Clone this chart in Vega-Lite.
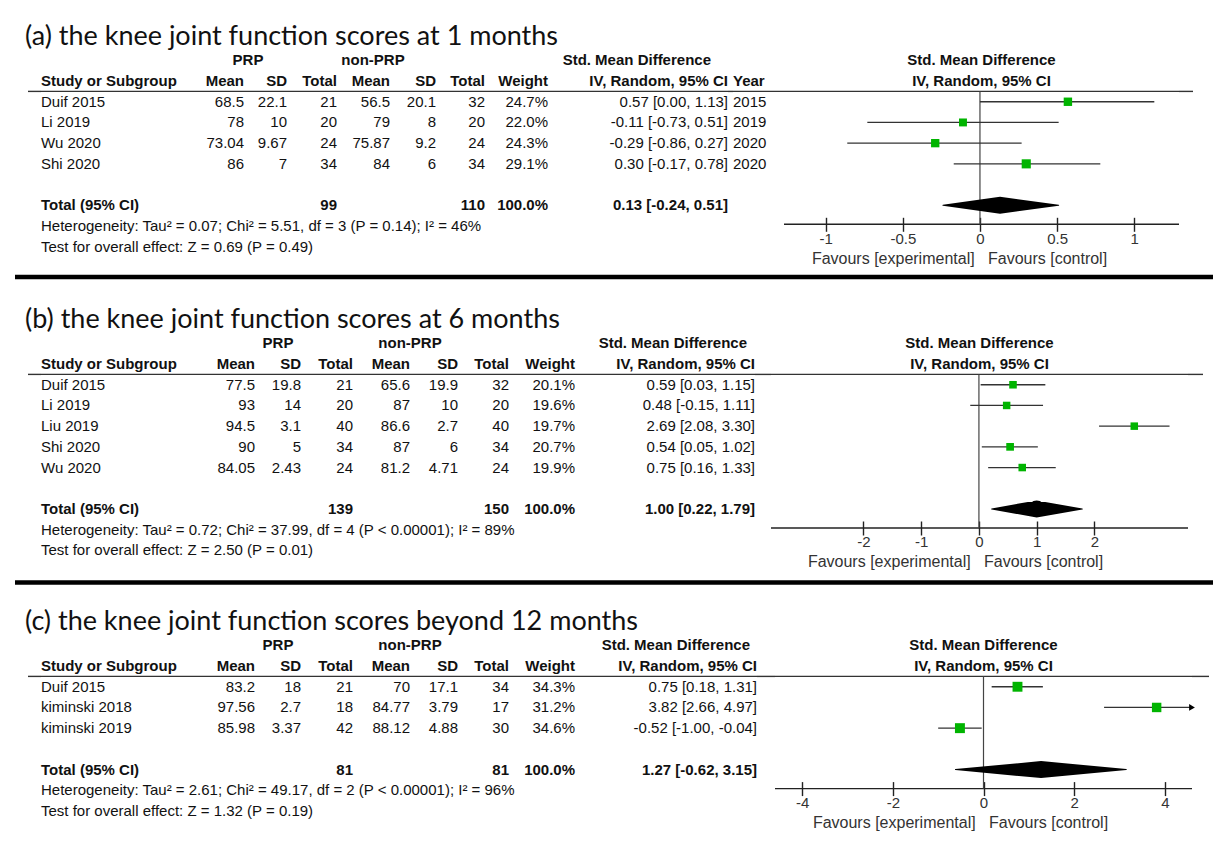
{
"$schema":"https://vega.github.io/schema/vega-lite/v6.json",
"background":"white",
"padding":{"left":12,"top":23,"right":0,"bottom":0},
"config":{
 "view":{"stroke":null},
 "concat":{"spacing":0},
 "scale":{"bandPaddingInner":0,"bandPaddingOuter":0},
 "text":{"font":"Liberation Sans","fontSize":15,"color":"#111","baseline":"middle"},
 "rule":{"color":"#333","strokeWidth":1.4},
 "axis":{"grid":false,"offset":-7,"domain":false,"tickColor":"#222","tickWidth":1.4,"tickSize":14,"labelFont":"Liberation Sans","labelFontSize":15,"labelColor":"#333","labelPadding":0,"titleFont":"Liberation Sans","titleFontSize":16,"titleFontWeight":"normal","titleColor":"#333","titlePadding":4},
 "title":{"font":"Lato","fontSize":27,"fontWeight":"normal","color":"#111","anchor":"start","baseline":"alphabetic","offset":0,"dx":10,"dy":5}
},
"datasets":{
 "hdr":[
  {"col":"study","row":"H","label":"Study or Subgroup"},
  {"col":"m1","row":"H","label":"Mean"},
  {"col":"s1","row":"H","label":"SD"},
  {"col":"s1","row":"G","label":"PRP"},
  {"col":"n1","row":"H","label":"Total"},
  {"col":"m2","row":"H","label":"Mean"},
  {"col":"s2","row":"H","label":"SD"},
  {"col":"s2","row":"G","label":"non-PRP"},
  {"col":"n2","row":"H","label":"Total"},
  {"col":"w","row":"H","label":"Weight"},
  {"col":"ci","row":"G","label":"Std. Mean Difference"},
  {"col":"ci","row":"H","label":"IV, Random, 95% CI"},
  {"col":"year","row":"H","label":"Year"},
  {"col":"plot","row":"G","label":"Std. Mean Difference"},
  {"col":"plot","row":"H","label":"IV, Random, 95% CI"}
 ],
 "a":[
  {"row":"Duif 2015","kind":"study","study":"Duif 2015","m1":68.5,"s1":22.1,"n1":21,"m2":56.5,"s2":20.1,"n2":32,"w":0.247,"smd":0.57,"lo":0.0,"hi":1.13,"ci":"0.57 [0.00, 1.13]","year":"2015"},
  {"row":"Li 2019","kind":"study","study":"Li 2019","m1":78,"s1":10,"n1":20,"m2":79,"s2":8,"n2":20,"w":0.22,"smd":-0.11,"lo":-0.73,"hi":0.51,"ci":"-0.11 [-0.73, 0.51]","year":"2019"},
  {"row":"Wu 2020","kind":"study","study":"Wu 2020","m1":73.04,"s1":9.67,"n1":24,"m2":75.87,"s2":9.2,"n2":24,"w":0.243,"smd":-0.29,"lo":-0.86,"hi":0.27,"ci":"-0.29 [-0.86, 0.27]","year":"2020"},
  {"row":"Shi 2020","kind":"study","study":"Shi 2020","m1":86,"s1":7,"n1":34,"m2":84,"s2":6,"n2":34,"w":0.291,"smd":0.30,"lo":-0.17,"hi":0.78,"ci":"0.30 [-0.17, 0.78]","year":"2020"},
  {"row":"Total","kind":"total","study":"Total (95% CI)","n1":99,"n2":110,"w":1.0,"smd":0.13,"lo":-0.24,"hi":0.51,"ci":"0.13 [-0.24, 0.51]"},
  {"row":"Het","kind":"note","study":"Heterogeneity: Tau² = 0.07; Chi² = 5.51, df = 3 (P = 0.14); I² = 46%"},
  {"row":"Test","kind":"note","study":"Test for overall effect: Z = 0.69 (P = 0.49)"}
 ],
 "b":[
  {"row":"Duif 2015","kind":"study","study":"Duif 2015","m1":77.5,"s1":19.8,"n1":21,"m2":65.6,"s2":19.9,"n2":32,"w":0.201,"smd":0.59,"lo":0.03,"hi":1.15,"ci":"0.59 [0.03, 1.15]"},
  {"row":"Li 2019","kind":"study","study":"Li 2019","m1":93,"s1":14,"n1":20,"m2":87,"s2":10,"n2":20,"w":0.196,"smd":0.48,"lo":-0.15,"hi":1.11,"ci":"0.48 [-0.15, 1.11]"},
  {"row":"Liu 2019","kind":"study","study":"Liu 2019","m1":94.5,"s1":3.1,"n1":40,"m2":86.6,"s2":2.7,"n2":40,"w":0.197,"smd":2.69,"lo":2.08,"hi":3.30,"ci":"2.69 [2.08, 3.30]"},
  {"row":"Shi 2020","kind":"study","study":"Shi 2020","m1":90,"s1":5,"n1":34,"m2":87,"s2":6,"n2":34,"w":0.207,"smd":0.54,"lo":0.05,"hi":1.02,"ci":"0.54 [0.05, 1.02]"},
  {"row":"Wu 2020","kind":"study","study":"Wu 2020","m1":84.05,"s1":2.43,"n1":24,"m2":81.2,"s2":4.71,"n2":24,"w":0.199,"smd":0.75,"lo":0.16,"hi":1.33,"ci":"0.75 [0.16, 1.33]"},
  {"row":"Total","kind":"total","study":"Total (95% CI)","n1":139,"n2":150,"w":1.0,"smd":1.00,"lo":0.22,"hi":1.79,"ci":"1.00 [0.22, 1.79]"},
  {"row":"Het","kind":"note","study":"Heterogeneity: Tau² = 0.72; Chi² = 37.99, df = 4 (P < 0.00001); I² = 89%"},
  {"row":"Test","kind":"note","study":"Test for overall effect: Z = 2.50 (P = 0.01)"}
 ],
 "c":[
  {"row":"Duif 2015","kind":"study","study":"Duif 2015","m1":83.2,"s1":18,"n1":21,"m2":70,"s2":17.1,"n2":34,"w":0.343,"smd":0.75,"lo":0.18,"hi":1.31,"ci":"0.75 [0.18, 1.31]"},
  {"row":"kiminski 2018","kind":"study","study":"kiminski 2018","m1":97.56,"s1":2.7,"n1":18,"m2":84.77,"s2":3.79,"n2":17,"w":0.312,"smd":3.82,"lo":2.66,"hi":4.97,"ci":"3.82 [2.66, 4.97]"},
  {"row":"kiminski 2019","kind":"study","study":"kiminski 2019","m1":85.98,"s1":3.37,"n1":42,"m2":88.12,"s2":4.88,"n2":30,"w":0.346,"smd":-0.52,"lo":-1.0,"hi":-0.04,"ci":"-0.52 [-1.00, -0.04]"},
  {"row":"Total","kind":"total","study":"Total (95% CI)","n1":81,"n2":81,"w":1.0,"smd":1.27,"lo":-0.62,"hi":3.15,"ci":"1.27 [-0.62, 3.15]"},
  {"row":"Het","kind":"note","study":"Heterogeneity: Tau² = 2.61; Chi² = 49.17, df = 2 (P < 0.00001); I² = 96%"},
  {"row":"Test","kind":"note","study":"Test for overall effect: Z = 1.32 (P = 0.19)"}
 ]
},
"vconcat":[
{"title":{"text":"(a) the knee joint function scores at 1 months"},"bounds":"flush","hconcat":[
 {"width":13,"height":20,"data":{"values":[]},"mark":"text","encoding":{}},
 {"width":13,"height":{"step":20.7},"encoding":{"y":{"field":"row","type":"nominal","axis":null,"scale":{"type":"band","domain":["G","H","Duif 2015","Li 2019","Wu 2020","Shi 2020","gap","Total","Het","Test"]}}},"layer":[
  {"data":{"name":"hdr"},"transform":[{"filter":"datum.label=='Study or Subgroup'"}],"mark":"rule","encoding":{"y":{"field":"row","type":"nominal","axis":null,"bandPosition":1,"scale":{"type":"band","domain":["G","H","Duif 2015","Li 2019","Wu 2020","Shi 2020","gap","Total","Het","Test"]}}}},
  {"data":{"name":"hdr"},"transform":[{"filter":"datum.col=='study'"}],"mark":{"type":"text","align":"left","fontWeight":"bold"},"encoding":{"x":{"value":"width"},"text":{"field":"label"}}},
  {"data":{"name":"a"},"transform":[{"filter":"datum.kind!='total'"}],"mark":{"type":"text","align":"left"},"encoding":{"x":{"value":"width"},"text":{"field":"study"}}},
  {"data":{"name":"a"},"transform":[{"filter":"datum.kind=='total'"}],"mark":{"type":"text","align":"left","fontWeight":"bold"},"encoding":{"x":{"value":"width"},"text":{"field":"study"}}}
 ]},
 {"width":203,"height":{"step":20.7},"encoding":{"y":{"field":"row","type":"nominal","axis":null,"scale":{"type":"band","domain":["G","H","Duif 2015","Li 2019","Wu 2020","Shi 2020","gap","Total","Het","Test"]}}},"layer":[
  {"data":{"name":"hdr"},"transform":[{"filter":"datum.label=='Study or Subgroup'"}],"mark":"rule","encoding":{"y":{"field":"row","type":"nominal","axis":null,"bandPosition":1,"scale":{"type":"band","domain":["G","H","Duif 2015","Li 2019","Wu 2020","Shi 2020","gap","Total","Het","Test"]}}}},
  {"data":{"name":"hdr"},"transform":[{"filter":"datum.col=='m1'"}],"mark":{"type":"text","align":"right","fontWeight":"bold"},"encoding":{"x":{"value":"width"},"text":{"field":"label"}}},
  {"data":{"name":"hdr"},"transform":[{"filter":"datum.col=='s1' && datum.row=='G'"}],"mark":{"type":"text","align":"center","fontWeight":"bold","dx":4},"encoding":{"x":{"value":"width"},"text":{"field":"label"}}},
  {"data":{"name":"a"},"transform":[{"filter":"datum.kind=='study'"}],"mark":{"type":"text","align":"right"},"encoding":{"x":{"value":"width"},"text":{"field":"m1","type":"quantitative"}}}
 ]},
 {"width":43,"height":{"step":20.7},"encoding":{"y":{"field":"row","type":"nominal","axis":null,"scale":{"type":"band","domain":["G","H","Duif 2015","Li 2019","Wu 2020","Shi 2020","gap","Total","Het","Test"]}}},"layer":[
  {"data":{"name":"hdr"},"transform":[{"filter":"datum.label=='Study or Subgroup'"}],"mark":"rule","encoding":{"y":{"field":"row","type":"nominal","axis":null,"bandPosition":1,"scale":{"type":"band","domain":["G","H","Duif 2015","Li 2019","Wu 2020","Shi 2020","gap","Total","Het","Test"]}}}},
  {"data":{"name":"hdr"},"transform":[{"filter":"datum.col=='s1' && datum.row=='H'"}],"mark":{"type":"text","align":"right","fontWeight":"bold"},"encoding":{"x":{"value":"width"},"text":{"field":"label"}}},
  {"data":{"name":"a"},"transform":[{"filter":"datum.kind=='study'"}],"mark":{"type":"text","align":"right"},"encoding":{"x":{"value":"width"},"text":{"field":"s1","type":"quantitative"}}}
 ]},
 {"width":50,"height":{"step":20.7},"encoding":{"y":{"field":"row","type":"nominal","axis":null,"scale":{"type":"band","domain":["G","H","Duif 2015","Li 2019","Wu 2020","Shi 2020","gap","Total","Het","Test"]}}},"layer":[
  {"data":{"name":"hdr"},"transform":[{"filter":"datum.label=='Study or Subgroup'"}],"mark":"rule","encoding":{"y":{"field":"row","type":"nominal","axis":null,"bandPosition":1,"scale":{"type":"band","domain":["G","H","Duif 2015","Li 2019","Wu 2020","Shi 2020","gap","Total","Het","Test"]}}}},
  {"data":{"name":"hdr"},"transform":[{"filter":"datum.col=='n1'"}],"mark":{"type":"text","align":"right","fontWeight":"bold"},"encoding":{"x":{"value":"width"},"text":{"field":"label"}}},
  {"data":{"name":"a"},"transform":[{"filter":"datum.kind=='study'"}],"mark":{"type":"text","align":"right"},"encoding":{"x":{"value":"width"},"text":{"field":"n1","type":"quantitative"}}},
  {"data":{"name":"a"},"transform":[{"filter":"datum.kind=='total'"}],"mark":{"type":"text","align":"right","fontWeight":"bold"},"encoding":{"x":{"value":"width"},"text":{"field":"n1","type":"quantitative"}}}
 ]},
 {"width":53,"height":{"step":20.7},"encoding":{"y":{"field":"row","type":"nominal","axis":null,"scale":{"type":"band","domain":["G","H","Duif 2015","Li 2019","Wu 2020","Shi 2020","gap","Total","Het","Test"]}}},"layer":[
  {"data":{"name":"hdr"},"transform":[{"filter":"datum.label=='Study or Subgroup'"}],"mark":"rule","encoding":{"y":{"field":"row","type":"nominal","axis":null,"bandPosition":1,"scale":{"type":"band","domain":["G","H","Duif 2015","Li 2019","Wu 2020","Shi 2020","gap","Total","Het","Test"]}}}},
  {"data":{"name":"hdr"},"transform":[{"filter":"datum.col=='m2'"}],"mark":{"type":"text","align":"right","fontWeight":"bold"},"encoding":{"x":{"value":"width"},"text":{"field":"label"}}},
  {"data":{"name":"hdr"},"transform":[{"filter":"datum.col=='s2' && datum.row=='G'"}],"mark":{"type":"text","align":"center","fontWeight":"bold","dx":-17},"encoding":{"x":{"value":"width"},"text":{"field":"label"}}},
  {"data":{"name":"a"},"transform":[{"filter":"datum.kind=='study'"}],"mark":{"type":"text","align":"right"},"encoding":{"x":{"value":"width"},"text":{"field":"m2","type":"quantitative"}}}
 ]},
 {"width":46,"height":{"step":20.7},"encoding":{"y":{"field":"row","type":"nominal","axis":null,"scale":{"type":"band","domain":["G","H","Duif 2015","Li 2019","Wu 2020","Shi 2020","gap","Total","Het","Test"]}}},"layer":[
  {"data":{"name":"hdr"},"transform":[{"filter":"datum.label=='Study or Subgroup'"}],"mark":"rule","encoding":{"y":{"field":"row","type":"nominal","axis":null,"bandPosition":1,"scale":{"type":"band","domain":["G","H","Duif 2015","Li 2019","Wu 2020","Shi 2020","gap","Total","Het","Test"]}}}},
  {"data":{"name":"hdr"},"transform":[{"filter":"datum.col=='s2' && datum.row=='H'"}],"mark":{"type":"text","align":"right","fontWeight":"bold"},"encoding":{"x":{"value":"width"},"text":{"field":"label"}}},
  {"data":{"name":"a"},"transform":[{"filter":"datum.kind=='study'"}],"mark":{"type":"text","align":"right"},"encoding":{"x":{"value":"width"},"text":{"field":"s2","type":"quantitative"}}}
 ]},
 {"width":49,"height":{"step":20.7},"encoding":{"y":{"field":"row","type":"nominal","axis":null,"scale":{"type":"band","domain":["G","H","Duif 2015","Li 2019","Wu 2020","Shi 2020","gap","Total","Het","Test"]}}},"layer":[
  {"data":{"name":"hdr"},"transform":[{"filter":"datum.label=='Study or Subgroup'"}],"mark":"rule","encoding":{"y":{"field":"row","type":"nominal","axis":null,"bandPosition":1,"scale":{"type":"band","domain":["G","H","Duif 2015","Li 2019","Wu 2020","Shi 2020","gap","Total","Het","Test"]}}}},
  {"data":{"name":"hdr"},"transform":[{"filter":"datum.col=='n2'"}],"mark":{"type":"text","align":"right","fontWeight":"bold"},"encoding":{"x":{"value":"width"},"text":{"field":"label"}}},
  {"data":{"name":"a"},"transform":[{"filter":"datum.kind=='study'"}],"mark":{"type":"text","align":"right"},"encoding":{"x":{"value":"width"},"text":{"field":"n2","type":"quantitative"}}},
  {"data":{"name":"a"},"transform":[{"filter":"datum.kind=='total'"}],"mark":{"type":"text","align":"right","fontWeight":"bold"},"encoding":{"x":{"value":"width"},"text":{"field":"n2","type":"quantitative"}}}
 ]},
 {"width":63,"height":{"step":20.7},"encoding":{"y":{"field":"row","type":"nominal","axis":null,"scale":{"type":"band","domain":["G","H","Duif 2015","Li 2019","Wu 2020","Shi 2020","gap","Total","Het","Test"]}}},"layer":[
  {"data":{"name":"hdr"},"transform":[{"filter":"datum.label=='Study or Subgroup'"}],"mark":"rule","encoding":{"y":{"field":"row","type":"nominal","axis":null,"bandPosition":1,"scale":{"type":"band","domain":["G","H","Duif 2015","Li 2019","Wu 2020","Shi 2020","gap","Total","Het","Test"]}}}},
  {"data":{"name":"hdr"},"transform":[{"filter":"datum.col=='w'"}],"mark":{"type":"text","align":"right","fontWeight":"bold"},"encoding":{"x":{"value":"width"},"text":{"field":"label"}}},
  {"data":{"name":"a"},"transform":[{"filter":"datum.kind=='study'"}],"mark":{"type":"text","align":"right"},"encoding":{"x":{"value":"width"},"text":{"field":"w","type":"quantitative","format":".1%"}}},
  {"data":{"name":"a"},"transform":[{"filter":"datum.kind=='total'"}],"mark":{"type":"text","align":"right","fontWeight":"bold"},"encoding":{"x":{"value":"width"},"text":{"field":"w","type":"quantitative","format":".1%"}}}
 ]},
 {"width":180,"height":{"step":20.7},"encoding":{"y":{"field":"row","type":"nominal","axis":null,"scale":{"type":"band","domain":["G","H","Duif 2015","Li 2019","Wu 2020","Shi 2020","gap","Total","Het","Test"]}}},"layer":[
  {"data":{"name":"hdr"},"transform":[{"filter":"datum.label=='Study or Subgroup'"}],"mark":"rule","encoding":{"y":{"field":"row","type":"nominal","axis":null,"bandPosition":1,"scale":{"type":"band","domain":["G","H","Duif 2015","Li 2019","Wu 2020","Shi 2020","gap","Total","Het","Test"]}}}},
  {"data":{"name":"hdr"},"transform":[{"filter":"datum.col=='ci' && datum.row=='H'"}],"mark":{"type":"text","align":"right","fontWeight":"bold"},"encoding":{"x":{"value":"width"},"text":{"field":"label"}}},
  {"data":{"name":"hdr"},"transform":[{"filter":"datum.col=='ci' && datum.row=='G'"}],"mark":{"type":"text","align":"right","fontWeight":"bold","dx":-17},"encoding":{"x":{"value":"width"},"text":{"field":"label"}}},
  {"data":{"name":"a"},"transform":[{"filter":"datum.kind=='study'"}],"mark":{"type":"text","align":"right"},"encoding":{"x":{"value":"width"},"text":{"field":"ci","type":"nominal"}}},
  {"data":{"name":"a"},"transform":[{"filter":"datum.kind=='total'"}],"mark":{"type":"text","align":"right","fontWeight":"bold"},"encoding":{"x":{"value":"width"},"text":{"field":"ci","type":"nominal"}}}
 ]},
 {"width":5,"height":{"step":20.7},"encoding":{"y":{"field":"row","type":"nominal","axis":null,"scale":{"type":"band","domain":["G","H","Duif 2015","Li 2019","Wu 2020","Shi 2020","gap","Total","Het","Test"]}}},"layer":[
  {"data":{"name":"hdr"},"transform":[{"filter":"datum.label=='Study or Subgroup'"}],"mark":"rule","encoding":{"y":{"field":"row","type":"nominal","axis":null,"bandPosition":1,"scale":{"type":"band","domain":["G","H","Duif 2015","Li 2019","Wu 2020","Shi 2020","gap","Total","Het","Test"]}}}},
  {"data":{"name":"hdr"},"transform":[{"filter":"datum.col=='year'"}],"mark":{"type":"text","align":"left","fontWeight":"bold"},"encoding":{"x":{"value":"width"},"text":{"field":"label"}}},
  {"data":{"name":"a"},"transform":[{"filter":"datum.kind=='study'"}],"mark":{"type":"text","align":"left"},"encoding":{"x":{"value":"width"},"text":{"field":"year","type":"nominal"}}}
 ]},
 {"width":51,"height":{"step":20.7},"data":{"name":"hdr"},"transform":[{"filter":"datum.label=='Study or Subgroup'"}],"mark":"rule","encoding":{"y":{"field":"row","type":"nominal","axis":null,"bandPosition":1,"scale":{"type":"band","domain":["G","H","Duif 2015","Li 2019","Wu 2020","Shi 2020","gap","Total","Het","Test"]}}}},
 {"width":395,"height":{"step":20.7},"resolve":{"scale":{"size":"independent"}},
  "encoding":{"y":{"field":"row","type":"nominal","axis":null,"scale":{"type":"band","domain":["G","H","Duif 2015","Li 2019","Wu 2020","Shi 2020","gap","Total"],"paddingOuter":0.21,"align":0}}},
  "layer":[
  {"data":{"name":"hdr"},"transform":[{"filter":"datum.col=='plot'"}],"mark":{"type":"text","align":"center","fontWeight":"bold"},"encoding":{"text":{"field":"label"}}},
  {"data":{"name":"hdr"},"transform":[{"filter":"datum.label=='Study or Subgroup'"}],"mark":"rule","encoding":{"y":{"field":"row","type":"nominal","axis":null,"bandPosition":1,"scale":{"type":"band","domain":["G","H","Duif 2015","Li 2019","Wu 2020","Shi 2020","gap","Total"],"paddingOuter":0.21,"align":0}}}},
  {"data":{"name":"hdr"},"transform":[{"filter":"datum.label=='Study or Subgroup'"}],"mark":{"type":"rule","color":"#222","strokeWidth":1.4},"encoding":{"y":{"value":"height"}}},
  {"data":{"name":"hdr"},"transform":[{"filter":"datum.label=='Study or Subgroup'"}],"mark":{"type":"rule","color":"#444","strokeWidth":1.2},"encoding":{"x":{"datum":0,"type":"quantitative","title":"Favours [experimental] \u00a0 Favours [control]"},"y":{"field":"row","type":"nominal","axis":null,"bandPosition":1,"scale":{"type":"band","domain":["G","H","Duif 2015","Li 2019","Wu 2020","Shi 2020","gap","Total"],"paddingOuter":0.21,"align":0}},"y2":{"value":"height"}}},
  {"data":{"name":"a"},"transform":[{"filter":"datum.kind=='study'"}],"mark":{"type":"rule","color":"#333","strokeWidth":1.3},"encoding":{"x":{"field":"lo","type":"quantitative","title":"Favours [experimental] \u00a0 Favours [control]","scale":{"domain":[-1.27,1.29],"nice":false,"zero":false,"clamp":true},"axis":{"values":[-1,-0.5,0,0.5,1],"labelExpr":"datum.value < 0 ? '-' + format(-datum.value, '~g') : format(datum.value, '~g')","titleX":175}},"x2":{"field":"hi"}}},
  {"data":{"name":"a"},"transform":[{"filter":"datum.kind=='study'"}],"mark":{"type":"point","shape":"square","filled":true,"color":"#00b400","opacity":1},"encoding":{"x":{"field":"smd","type":"quantitative","title":"Favours [experimental] \u00a0 Favours [control]"},"size":{"field":"w","type":"quantitative","scale":{"domain":[0,0.35],"range":[0,100]},"legend":null}}},
  {"data":{"name":"a"},"transform":[{"filter":"datum.kind=='total'"},{"fold":["lo","smd","hi"],"as":["k","v"]}],"mark":{"type":"trail","color":"#000"},"encoding":{"x":{"field":"v","type":"quantitative","title":"Favours [experimental] \u00a0 Favours [control]"},"size":{"field":"k","type":"nominal","scale":{"type":"ordinal","domain":["lo","smd","hi"],"range":[0,17,0]},"legend":null}}}
 ]},
 {"width":14,"height":{"step":20.7},"data":{"name":"hdr"},"transform":[{"filter":"datum.label=='Study or Subgroup'"}],"mark":"rule","encoding":{"y":{"field":"row","type":"nominal","axis":null,"bandPosition":1,"scale":{"type":"band","domain":["G","H","Duif 2015","Li 2019","Wu 2020","Shi 2020","gap","Total","Het","Test"]}}}}
]},
{"width":1198,"height":38.35,"data":{"values":[{}]},"mark":{"type":"rule","strokeWidth":4.5,"color":"#000"},"encoding":{"y":{"datum":0.737,"type":"quantitative","scale":{"domain":[0,1]},"axis":null}}},
{"title":{"text":"(b) the knee joint function scores at 6 months"},"bounds":"flush","hconcat":[
 {"width":13,"height":20,"data":{"values":[]},"mark":"text","encoding":{}},
 {"width":13,"height":{"step":20.7},"encoding":{"y":{"field":"row","type":"nominal","axis":null,"scale":{"type":"band","domain":["G","H","Duif 2015","Li 2019","Liu 2019","Shi 2020","Wu 2020","gap","Total","Het","Test"]}}},"layer":[
  {"data":{"name":"hdr"},"transform":[{"filter":"datum.label=='Study or Subgroup'"}],"mark":"rule","encoding":{"y":{"field":"row","type":"nominal","axis":null,"bandPosition":1,"scale":{"type":"band","domain":["G","H","Duif 2015","Li 2019","Liu 2019","Shi 2020","Wu 2020","gap","Total","Het","Test"]}}}},
  {"data":{"name":"hdr"},"transform":[{"filter":"datum.col=='study'"}],"mark":{"type":"text","align":"left","fontWeight":"bold"},"encoding":{"x":{"value":"width"},"text":{"field":"label"}}},
  {"data":{"name":"b"},"transform":[{"filter":"datum.kind!='total'"}],"mark":{"type":"text","align":"left"},"encoding":{"x":{"value":"width"},"text":{"field":"study"}}},
  {"data":{"name":"b"},"transform":[{"filter":"datum.kind=='total'"}],"mark":{"type":"text","align":"left","fontWeight":"bold"},"encoding":{"x":{"value":"width"},"text":{"field":"study"}}}
 ]},
 {"width":214,"height":{"step":20.7},"encoding":{"y":{"field":"row","type":"nominal","axis":null,"scale":{"type":"band","domain":["G","H","Duif 2015","Li 2019","Liu 2019","Shi 2020","Wu 2020","gap","Total","Het","Test"]}}},"layer":[
  {"data":{"name":"hdr"},"transform":[{"filter":"datum.label=='Study or Subgroup'"}],"mark":"rule","encoding":{"y":{"field":"row","type":"nominal","axis":null,"bandPosition":1,"scale":{"type":"band","domain":["G","H","Duif 2015","Li 2019","Liu 2019","Shi 2020","Wu 2020","gap","Total","Het","Test"]}}}},
  {"data":{"name":"hdr"},"transform":[{"filter":"datum.col=='m1'"}],"mark":{"type":"text","align":"right","fontWeight":"bold"},"encoding":{"x":{"value":"width"},"text":{"field":"label"}}},
  {"data":{"name":"b"},"transform":[{"filter":"datum.kind=='study'"}],"mark":{"type":"text","align":"right"},"encoding":{"x":{"value":"width"},"text":{"field":"m1","type":"quantitative"}}}
 ]},
 {"width":46,"height":{"step":20.7},"encoding":{"y":{"field":"row","type":"nominal","axis":null,"scale":{"type":"band","domain":["G","H","Duif 2015","Li 2019","Liu 2019","Shi 2020","Wu 2020","gap","Total","Het","Test"]}}},"layer":[
  {"data":{"name":"hdr"},"transform":[{"filter":"datum.label=='Study or Subgroup'"}],"mark":"rule","encoding":{"y":{"field":"row","type":"nominal","axis":null,"bandPosition":1,"scale":{"type":"band","domain":["G","H","Duif 2015","Li 2019","Liu 2019","Shi 2020","Wu 2020","gap","Total","Het","Test"]}}}},
  {"data":{"name":"hdr"},"transform":[{"filter":"datum.col=='s1' && datum.row=='H'"}],"mark":{"type":"text","align":"right","fontWeight":"bold"},"encoding":{"x":{"value":"width"},"text":{"field":"label"}}},
  {"data":{"name":"hdr"},"transform":[{"filter":"datum.col=='s1' && datum.row=='G'"}],"mark":{"type":"text","align":"center","fontWeight":"bold"},"encoding":{"text":{"field":"label"}}},
  {"data":{"name":"b"},"transform":[{"filter":"datum.kind=='study'"}],"mark":{"type":"text","align":"right"},"encoding":{"x":{"value":"width"},"text":{"field":"s1","type":"quantitative"}}}
 ]},
 {"width":52,"height":{"step":20.7},"encoding":{"y":{"field":"row","type":"nominal","axis":null,"scale":{"type":"band","domain":["G","H","Duif 2015","Li 2019","Liu 2019","Shi 2020","Wu 2020","gap","Total","Het","Test"]}}},"layer":[
  {"data":{"name":"hdr"},"transform":[{"filter":"datum.label=='Study or Subgroup'"}],"mark":"rule","encoding":{"y":{"field":"row","type":"nominal","axis":null,"bandPosition":1,"scale":{"type":"band","domain":["G","H","Duif 2015","Li 2019","Liu 2019","Shi 2020","Wu 2020","gap","Total","Het","Test"]}}}},
  {"data":{"name":"hdr"},"transform":[{"filter":"datum.col=='n1'"}],"mark":{"type":"text","align":"right","fontWeight":"bold"},"encoding":{"x":{"value":"width"},"text":{"field":"label"}}},
  {"data":{"name":"b"},"transform":[{"filter":"datum.kind=='study'"}],"mark":{"type":"text","align":"right"},"encoding":{"x":{"value":"width"},"text":{"field":"n1","type":"quantitative"}}},
  {"data":{"name":"b"},"transform":[{"filter":"datum.kind=='total'"}],"mark":{"type":"text","align":"right","fontWeight":"bold"},"encoding":{"x":{"value":"width"},"text":{"field":"n1","type":"quantitative"}}}
 ]},
 {"width":57,"height":{"step":20.7},"encoding":{"y":{"field":"row","type":"nominal","axis":null,"scale":{"type":"band","domain":["G","H","Duif 2015","Li 2019","Liu 2019","Shi 2020","Wu 2020","gap","Total","Het","Test"]}}},"layer":[
  {"data":{"name":"hdr"},"transform":[{"filter":"datum.label=='Study or Subgroup'"}],"mark":"rule","encoding":{"y":{"field":"row","type":"nominal","axis":null,"bandPosition":1,"scale":{"type":"band","domain":["G","H","Duif 2015","Li 2019","Liu 2019","Shi 2020","Wu 2020","gap","Total","Het","Test"]}}}},
  {"data":{"name":"hdr"},"transform":[{"filter":"datum.col=='m2'"}],"mark":{"type":"text","align":"right","fontWeight":"bold"},"encoding":{"x":{"value":"width"},"text":{"field":"label"}}},
  {"data":{"name":"hdr"},"transform":[{"filter":"datum.col=='s2' && datum.row=='G'"}],"mark":{"type":"text","align":"center","fontWeight":"bold"},"encoding":{"x":{"value":"width"},"text":{"field":"label"}}},
  {"data":{"name":"b"},"transform":[{"filter":"datum.kind=='study'"}],"mark":{"type":"text","align":"right"},"encoding":{"x":{"value":"width"},"text":{"field":"m2","type":"quantitative"}}}
 ]},
 {"width":48,"height":{"step":20.7},"encoding":{"y":{"field":"row","type":"nominal","axis":null,"scale":{"type":"band","domain":["G","H","Duif 2015","Li 2019","Liu 2019","Shi 2020","Wu 2020","gap","Total","Het","Test"]}}},"layer":[
  {"data":{"name":"hdr"},"transform":[{"filter":"datum.label=='Study or Subgroup'"}],"mark":"rule","encoding":{"y":{"field":"row","type":"nominal","axis":null,"bandPosition":1,"scale":{"type":"band","domain":["G","H","Duif 2015","Li 2019","Liu 2019","Shi 2020","Wu 2020","gap","Total","Het","Test"]}}}},
  {"data":{"name":"hdr"},"transform":[{"filter":"datum.col=='s2' && datum.row=='H'"}],"mark":{"type":"text","align":"right","fontWeight":"bold"},"encoding":{"x":{"value":"width"},"text":{"field":"label"}}},
  {"data":{"name":"b"},"transform":[{"filter":"datum.kind=='study'"}],"mark":{"type":"text","align":"right"},"encoding":{"x":{"value":"width"},"text":{"field":"s2","type":"quantitative"}}}
 ]},
 {"width":51,"height":{"step":20.7},"encoding":{"y":{"field":"row","type":"nominal","axis":null,"scale":{"type":"band","domain":["G","H","Duif 2015","Li 2019","Liu 2019","Shi 2020","Wu 2020","gap","Total","Het","Test"]}}},"layer":[
  {"data":{"name":"hdr"},"transform":[{"filter":"datum.label=='Study or Subgroup'"}],"mark":"rule","encoding":{"y":{"field":"row","type":"nominal","axis":null,"bandPosition":1,"scale":{"type":"band","domain":["G","H","Duif 2015","Li 2019","Liu 2019","Shi 2020","Wu 2020","gap","Total","Het","Test"]}}}},
  {"data":{"name":"hdr"},"transform":[{"filter":"datum.col=='n2'"}],"mark":{"type":"text","align":"right","fontWeight":"bold"},"encoding":{"x":{"value":"width"},"text":{"field":"label"}}},
  {"data":{"name":"b"},"transform":[{"filter":"datum.kind=='study'"}],"mark":{"type":"text","align":"right"},"encoding":{"x":{"value":"width"},"text":{"field":"n2","type":"quantitative"}}},
  {"data":{"name":"b"},"transform":[{"filter":"datum.kind=='total'"}],"mark":{"type":"text","align":"right","fontWeight":"bold"},"encoding":{"x":{"value":"width"},"text":{"field":"n2","type":"quantitative"}}}
 ]},
 {"width":66,"height":{"step":20.7},"encoding":{"y":{"field":"row","type":"nominal","axis":null,"scale":{"type":"band","domain":["G","H","Duif 2015","Li 2019","Liu 2019","Shi 2020","Wu 2020","gap","Total","Het","Test"]}}},"layer":[
  {"data":{"name":"hdr"},"transform":[{"filter":"datum.label=='Study or Subgroup'"}],"mark":"rule","encoding":{"y":{"field":"row","type":"nominal","axis":null,"bandPosition":1,"scale":{"type":"band","domain":["G","H","Duif 2015","Li 2019","Liu 2019","Shi 2020","Wu 2020","gap","Total","Het","Test"]}}}},
  {"data":{"name":"hdr"},"transform":[{"filter":"datum.col=='w'"}],"mark":{"type":"text","align":"right","fontWeight":"bold"},"encoding":{"x":{"value":"width"},"text":{"field":"label"}}},
  {"data":{"name":"b"},"transform":[{"filter":"datum.kind=='study'"}],"mark":{"type":"text","align":"right"},"encoding":{"x":{"value":"width"},"text":{"field":"w","type":"quantitative","format":".1%"}}},
  {"data":{"name":"b"},"transform":[{"filter":"datum.kind=='total'"}],"mark":{"type":"text","align":"right","fontWeight":"bold"},"encoding":{"x":{"value":"width"},"text":{"field":"w","type":"quantitative","format":".1%"}}}
 ]},
 {"width":180,"height":{"step":20.7},"encoding":{"y":{"field":"row","type":"nominal","axis":null,"scale":{"type":"band","domain":["G","H","Duif 2015","Li 2019","Liu 2019","Shi 2020","Wu 2020","gap","Total","Het","Test"]}}},"layer":[
  {"data":{"name":"hdr"},"transform":[{"filter":"datum.label=='Study or Subgroup'"}],"mark":"rule","encoding":{"y":{"field":"row","type":"nominal","axis":null,"bandPosition":1,"scale":{"type":"band","domain":["G","H","Duif 2015","Li 2019","Liu 2019","Shi 2020","Wu 2020","gap","Total","Het","Test"]}}}},
  {"data":{"name":"hdr"},"transform":[{"filter":"datum.col=='ci' && datum.row=='H'"}],"mark":{"type":"text","align":"right","fontWeight":"bold"},"encoding":{"x":{"value":"width"},"text":{"field":"label"}}},
  {"data":{"name":"hdr"},"transform":[{"filter":"datum.col=='ci' && datum.row=='G'"}],"mark":{"type":"text","align":"right","fontWeight":"bold","dx":-8},"encoding":{"x":{"value":"width"},"text":{"field":"label"}}},
  {"data":{"name":"b"},"transform":[{"filter":"datum.kind=='study'"}],"mark":{"type":"text","align":"right"},"encoding":{"x":{"value":"width"},"text":{"field":"ci","type":"nominal"}}},
  {"data":{"name":"b"},"transform":[{"filter":"datum.kind=='total'"}],"mark":{"type":"text","align":"right","fontWeight":"bold"},"encoding":{"x":{"value":"width"},"text":{"field":"ci","type":"nominal"}}}
 ]},
 {"width":16,"height":{"step":20.7},"data":{"name":"hdr"},"transform":[{"filter":"datum.label=='Study or Subgroup'"}],"mark":"rule","encoding":{"y":{"field":"row","type":"nominal","axis":null,"bandPosition":1,"scale":{"type":"band","domain":["G","H","Duif 2015","Li 2019","Liu 2019","Shi 2020","Wu 2020","gap","Total","Het","Test"]}}}},
 {"width":417,"height":{"step":20.7},"resolve":{"scale":{"size":"independent"}},
  "encoding":{"y":{"field":"row","type":"nominal","axis":null,"scale":{"type":"band","domain":["G","H","Duif 2015","Li 2019","Liu 2019","Shi 2020","Wu 2020","gap","Total"],"paddingOuter":0.21,"align":0}}},
  "layer":[
  {"data":{"name":"hdr"},"transform":[{"filter":"datum.col=='plot'"}],"mark":{"type":"text","align":"center","fontWeight":"bold"},"encoding":{"text":{"field":"label"}}},
  {"data":{"name":"hdr"},"transform":[{"filter":"datum.label=='Study or Subgroup'"}],"mark":"rule","encoding":{"y":{"field":"row","type":"nominal","axis":null,"bandPosition":1,"scale":{"type":"band","domain":["G","H","Duif 2015","Li 2019","Liu 2019","Shi 2020","Wu 2020","gap","Total"],"paddingOuter":0.21,"align":0}}}},
  {"data":{"name":"hdr"},"transform":[{"filter":"datum.label=='Study or Subgroup'"}],"mark":{"type":"rule","color":"#222","strokeWidth":1.4},"encoding":{"y":{"value":"height"}}},
  {"data":{"name":"hdr"},"transform":[{"filter":"datum.label=='Study or Subgroup'"}],"mark":{"type":"rule","color":"#444","strokeWidth":1.2},"encoding":{"x":{"datum":0,"type":"quantitative","title":"Favours [experimental] \u00a0 Favours [control]"},"y":{"field":"row","type":"nominal","axis":null,"bandPosition":1,"scale":{"type":"band","domain":["G","H","Duif 2015","Li 2019","Liu 2019","Shi 2020","Wu 2020","gap","Total"],"paddingOuter":0.21,"align":0}},"y2":{"value":"height"}}},
  {"data":{"name":"b"},"transform":[{"filter":"datum.kind=='study'"}],"mark":{"type":"rule","color":"#333","strokeWidth":1.3},"encoding":{"x":{"field":"lo","type":"quantitative","title":"Favours [experimental] \u00a0 Favours [control]","scale":{"domain":[-3.6,3.62],"nice":false,"zero":false,"clamp":true},"axis":{"values":[-2,-1,0,1,2],"labelExpr":"datum.value < 0 ? '-' + format(-datum.value, '~g') : format(datum.value, '~g')","titleX":184}},"x2":{"field":"hi"}}},
  {"data":{"name":"b"},"transform":[{"filter":"datum.kind=='study'"}],"mark":{"type":"point","shape":"square","filled":true,"color":"#00b400","opacity":1},"encoding":{"x":{"field":"smd","type":"quantitative","title":"Favours [experimental] \u00a0 Favours [control]"},"size":{"field":"w","type":"quantitative","scale":{"domain":[0,0.35],"range":[0,100]},"legend":null}}},
  {"data":{"name":"b"},"transform":[{"filter":"datum.kind=='total'"},{"fold":["lo","smd","hi"],"as":["k","v"]}],"mark":{"type":"trail","color":"#000"},"encoding":{"x":{"field":"v","type":"quantitative","title":"Favours [experimental] \u00a0 Favours [control]"},"size":{"field":"k","type":"nominal","scale":{"type":"ordinal","domain":["lo","smd","hi"],"range":[0,17,0]},"legend":null}}}
 ]},
 {"width":15,"height":{"step":20.7},"data":{"name":"hdr"},"transform":[{"filter":"datum.label=='Study or Subgroup'"}],"mark":"rule","encoding":{"y":{"field":"row","type":"nominal","axis":null,"bandPosition":1,"scale":{"type":"band","domain":["G","H","Duif 2015","Li 2019","Liu 2019","Shi 2020","Wu 2020","gap","Total","Het","Test"]}}}}
]},
{"width":1198,"height":37.15,"data":{"values":[{}]},"mark":{"type":"rule","strokeWidth":4.5,"color":"#000"},"encoding":{"y":{"datum":0.666,"type":"quantitative","scale":{"domain":[0,1]},"axis":null}}},
{"title":{"text":"(c) the knee joint function scores beyond 12 months"},"bounds":"flush","hconcat":[
 {"width":13,"height":20,"data":{"values":[]},"mark":"text","encoding":{}},
 {"width":13,"height":{"step":20.7},"encoding":{"y":{"field":"row","type":"nominal","axis":null,"scale":{"type":"band","domain":["G","H","Duif 2015","kiminski 2018","kiminski 2019","gap","Total","Het","Test"]}}},"layer":[
  {"data":{"name":"hdr"},"transform":[{"filter":"datum.label=='Study or Subgroup'"}],"mark":"rule","encoding":{"y":{"field":"row","type":"nominal","axis":null,"bandPosition":1,"scale":{"type":"band","domain":["G","H","Duif 2015","kiminski 2018","kiminski 2019","gap","Total","Het","Test"]}}}},
  {"data":{"name":"hdr"},"transform":[{"filter":"datum.col=='study'"}],"mark":{"type":"text","align":"left","fontWeight":"bold"},"encoding":{"x":{"value":"width"},"text":{"field":"label"}}},
  {"data":{"name":"c"},"transform":[{"filter":"datum.kind!='total'"}],"mark":{"type":"text","align":"left"},"encoding":{"x":{"value":"width"},"text":{"field":"study"}}},
  {"data":{"name":"c"},"transform":[{"filter":"datum.kind=='total'"}],"mark":{"type":"text","align":"left","fontWeight":"bold"},"encoding":{"x":{"value":"width"},"text":{"field":"study"}}}
 ]},
 {"width":214,"height":{"step":20.7},"encoding":{"y":{"field":"row","type":"nominal","axis":null,"scale":{"type":"band","domain":["G","H","Duif 2015","kiminski 2018","kiminski 2019","gap","Total","Het","Test"]}}},"layer":[
  {"data":{"name":"hdr"},"transform":[{"filter":"datum.label=='Study or Subgroup'"}],"mark":"rule","encoding":{"y":{"field":"row","type":"nominal","axis":null,"bandPosition":1,"scale":{"type":"band","domain":["G","H","Duif 2015","kiminski 2018","kiminski 2019","gap","Total","Het","Test"]}}}},
  {"data":{"name":"hdr"},"transform":[{"filter":"datum.col=='m1'"}],"mark":{"type":"text","align":"right","fontWeight":"bold"},"encoding":{"x":{"value":"width"},"text":{"field":"label"}}},
  {"data":{"name":"c"},"transform":[{"filter":"datum.kind=='study'"}],"mark":{"type":"text","align":"right"},"encoding":{"x":{"value":"width"},"text":{"field":"m1","type":"quantitative"}}}
 ]},
 {"width":46,"height":{"step":20.7},"encoding":{"y":{"field":"row","type":"nominal","axis":null,"scale":{"type":"band","domain":["G","H","Duif 2015","kiminski 2018","kiminski 2019","gap","Total","Het","Test"]}}},"layer":[
  {"data":{"name":"hdr"},"transform":[{"filter":"datum.label=='Study or Subgroup'"}],"mark":"rule","encoding":{"y":{"field":"row","type":"nominal","axis":null,"bandPosition":1,"scale":{"type":"band","domain":["G","H","Duif 2015","kiminski 2018","kiminski 2019","gap","Total","Het","Test"]}}}},
  {"data":{"name":"hdr"},"transform":[{"filter":"datum.col=='s1' && datum.row=='H'"}],"mark":{"type":"text","align":"right","fontWeight":"bold"},"encoding":{"x":{"value":"width"},"text":{"field":"label"}}},
  {"data":{"name":"hdr"},"transform":[{"filter":"datum.col=='s1' && datum.row=='G'"}],"mark":{"type":"text","align":"center","fontWeight":"bold"},"encoding":{"text":{"field":"label"}}},
  {"data":{"name":"c"},"transform":[{"filter":"datum.kind=='study'"}],"mark":{"type":"text","align":"right"},"encoding":{"x":{"value":"width"},"text":{"field":"s1","type":"quantitative"}}}
 ]},
 {"width":52,"height":{"step":20.7},"encoding":{"y":{"field":"row","type":"nominal","axis":null,"scale":{"type":"band","domain":["G","H","Duif 2015","kiminski 2018","kiminski 2019","gap","Total","Het","Test"]}}},"layer":[
  {"data":{"name":"hdr"},"transform":[{"filter":"datum.label=='Study or Subgroup'"}],"mark":"rule","encoding":{"y":{"field":"row","type":"nominal","axis":null,"bandPosition":1,"scale":{"type":"band","domain":["G","H","Duif 2015","kiminski 2018","kiminski 2019","gap","Total","Het","Test"]}}}},
  {"data":{"name":"hdr"},"transform":[{"filter":"datum.col=='n1'"}],"mark":{"type":"text","align":"right","fontWeight":"bold"},"encoding":{"x":{"value":"width"},"text":{"field":"label"}}},
  {"data":{"name":"c"},"transform":[{"filter":"datum.kind=='study'"}],"mark":{"type":"text","align":"right"},"encoding":{"x":{"value":"width"},"text":{"field":"n1","type":"quantitative"}}},
  {"data":{"name":"c"},"transform":[{"filter":"datum.kind=='total'"}],"mark":{"type":"text","align":"right","fontWeight":"bold"},"encoding":{"x":{"value":"width"},"text":{"field":"n1","type":"quantitative"}}}
 ]},
 {"width":57,"height":{"step":20.7},"encoding":{"y":{"field":"row","type":"nominal","axis":null,"scale":{"type":"band","domain":["G","H","Duif 2015","kiminski 2018","kiminski 2019","gap","Total","Het","Test"]}}},"layer":[
  {"data":{"name":"hdr"},"transform":[{"filter":"datum.label=='Study or Subgroup'"}],"mark":"rule","encoding":{"y":{"field":"row","type":"nominal","axis":null,"bandPosition":1,"scale":{"type":"band","domain":["G","H","Duif 2015","kiminski 2018","kiminski 2019","gap","Total","Het","Test"]}}}},
  {"data":{"name":"hdr"},"transform":[{"filter":"datum.col=='m2'"}],"mark":{"type":"text","align":"right","fontWeight":"bold"},"encoding":{"x":{"value":"width"},"text":{"field":"label"}}},
  {"data":{"name":"hdr"},"transform":[{"filter":"datum.col=='s2' && datum.row=='G'"}],"mark":{"type":"text","align":"center","fontWeight":"bold"},"encoding":{"x":{"value":"width"},"text":{"field":"label"}}},
  {"data":{"name":"c"},"transform":[{"filter":"datum.kind=='study'"}],"mark":{"type":"text","align":"right"},"encoding":{"x":{"value":"width"},"text":{"field":"m2","type":"quantitative"}}}
 ]},
 {"width":48,"height":{"step":20.7},"encoding":{"y":{"field":"row","type":"nominal","axis":null,"scale":{"type":"band","domain":["G","H","Duif 2015","kiminski 2018","kiminski 2019","gap","Total","Het","Test"]}}},"layer":[
  {"data":{"name":"hdr"},"transform":[{"filter":"datum.label=='Study or Subgroup'"}],"mark":"rule","encoding":{"y":{"field":"row","type":"nominal","axis":null,"bandPosition":1,"scale":{"type":"band","domain":["G","H","Duif 2015","kiminski 2018","kiminski 2019","gap","Total","Het","Test"]}}}},
  {"data":{"name":"hdr"},"transform":[{"filter":"datum.col=='s2' && datum.row=='H'"}],"mark":{"type":"text","align":"right","fontWeight":"bold"},"encoding":{"x":{"value":"width"},"text":{"field":"label"}}},
  {"data":{"name":"c"},"transform":[{"filter":"datum.kind=='study'"}],"mark":{"type":"text","align":"right"},"encoding":{"x":{"value":"width"},"text":{"field":"s2","type":"quantitative"}}}
 ]},
 {"width":51,"height":{"step":20.7},"encoding":{"y":{"field":"row","type":"nominal","axis":null,"scale":{"type":"band","domain":["G","H","Duif 2015","kiminski 2018","kiminski 2019","gap","Total","Het","Test"]}}},"layer":[
  {"data":{"name":"hdr"},"transform":[{"filter":"datum.label=='Study or Subgroup'"}],"mark":"rule","encoding":{"y":{"field":"row","type":"nominal","axis":null,"bandPosition":1,"scale":{"type":"band","domain":["G","H","Duif 2015","kiminski 2018","kiminski 2019","gap","Total","Het","Test"]}}}},
  {"data":{"name":"hdr"},"transform":[{"filter":"datum.col=='n2'"}],"mark":{"type":"text","align":"right","fontWeight":"bold"},"encoding":{"x":{"value":"width"},"text":{"field":"label"}}},
  {"data":{"name":"c"},"transform":[{"filter":"datum.kind=='study'"}],"mark":{"type":"text","align":"right"},"encoding":{"x":{"value":"width"},"text":{"field":"n2","type":"quantitative"}}},
  {"data":{"name":"c"},"transform":[{"filter":"datum.kind=='total'"}],"mark":{"type":"text","align":"right","fontWeight":"bold"},"encoding":{"x":{"value":"width"},"text":{"field":"n2","type":"quantitative"}}}
 ]},
 {"width":66,"height":{"step":20.7},"encoding":{"y":{"field":"row","type":"nominal","axis":null,"scale":{"type":"band","domain":["G","H","Duif 2015","kiminski 2018","kiminski 2019","gap","Total","Het","Test"]}}},"layer":[
  {"data":{"name":"hdr"},"transform":[{"filter":"datum.label=='Study or Subgroup'"}],"mark":"rule","encoding":{"y":{"field":"row","type":"nominal","axis":null,"bandPosition":1,"scale":{"type":"band","domain":["G","H","Duif 2015","kiminski 2018","kiminski 2019","gap","Total","Het","Test"]}}}},
  {"data":{"name":"hdr"},"transform":[{"filter":"datum.col=='w'"}],"mark":{"type":"text","align":"right","fontWeight":"bold"},"encoding":{"x":{"value":"width"},"text":{"field":"label"}}},
  {"data":{"name":"c"},"transform":[{"filter":"datum.kind=='study'"}],"mark":{"type":"text","align":"right"},"encoding":{"x":{"value":"width"},"text":{"field":"w","type":"quantitative","format":".1%"}}},
  {"data":{"name":"c"},"transform":[{"filter":"datum.kind=='total'"}],"mark":{"type":"text","align":"right","fontWeight":"bold"},"encoding":{"x":{"value":"width"},"text":{"field":"w","type":"quantitative","format":".1%"}}}
 ]},
 {"width":182,"height":{"step":20.7},"encoding":{"y":{"field":"row","type":"nominal","axis":null,"scale":{"type":"band","domain":["G","H","Duif 2015","kiminski 2018","kiminski 2019","gap","Total","Het","Test"]}}},"layer":[
  {"data":{"name":"hdr"},"transform":[{"filter":"datum.label=='Study or Subgroup'"}],"mark":"rule","encoding":{"y":{"field":"row","type":"nominal","axis":null,"bandPosition":1,"scale":{"type":"band","domain":["G","H","Duif 2015","kiminski 2018","kiminski 2019","gap","Total","Het","Test"]}}}},
  {"data":{"name":"hdr"},"transform":[{"filter":"datum.col=='ci' && datum.row=='H'"}],"mark":{"type":"text","align":"right","fontWeight":"bold"},"encoding":{"x":{"value":"width"},"text":{"field":"label"}}},
  {"data":{"name":"hdr"},"transform":[{"filter":"datum.col=='ci' && datum.row=='G'"}],"mark":{"type":"text","align":"right","fontWeight":"bold","dx":-7},"encoding":{"x":{"value":"width"},"text":{"field":"label"}}},
  {"data":{"name":"c"},"transform":[{"filter":"datum.kind=='study'"}],"mark":{"type":"text","align":"right"},"encoding":{"x":{"value":"width"},"text":{"field":"ci","type":"nominal"}}},
  {"data":{"name":"c"},"transform":[{"filter":"datum.kind=='total'"}],"mark":{"type":"text","align":"right","fontWeight":"bold"},"encoding":{"x":{"value":"width"},"text":{"field":"ci","type":"nominal"}}}
 ]},
 {"width":18,"height":{"step":20.7},"data":{"name":"hdr"},"transform":[{"filter":"datum.label=='Study or Subgroup'"}],"mark":"rule","encoding":{"y":{"field":"row","type":"nominal","axis":null,"bandPosition":1,"scale":{"type":"band","domain":["G","H","Duif 2015","kiminski 2018","kiminski 2019","gap","Total","Het","Test"]}}}},
 {"width":417,"height":{"step":20.7},"resolve":{"scale":{"size":"independent"}},
  "encoding":{"y":{"field":"row","type":"nominal","axis":null,"scale":{"type":"band","domain":["G","H","Duif 2015","kiminski 2018","kiminski 2019","gap","Total"],"paddingOuter":0.21,"align":0}}},
  "layer":[
  {"data":{"name":"hdr"},"transform":[{"filter":"datum.col=='plot'"}],"mark":{"type":"text","align":"center","fontWeight":"bold"},"encoding":{"text":{"field":"label"}}},
  {"data":{"name":"hdr"},"transform":[{"filter":"datum.label=='Study or Subgroup'"}],"mark":"rule","encoding":{"y":{"field":"row","type":"nominal","axis":null,"bandPosition":1,"scale":{"type":"band","domain":["G","H","Duif 2015","kiminski 2018","kiminski 2019","gap","Total"],"paddingOuter":0.21,"align":0}}}},
  {"data":{"name":"hdr"},"transform":[{"filter":"datum.label=='Study or Subgroup'"}],"mark":{"type":"rule","color":"#222","strokeWidth":1.4},"encoding":{"y":{"value":"height"}}},
  {"data":{"name":"hdr"},"transform":[{"filter":"datum.label=='Study or Subgroup'"}],"mark":{"type":"rule","color":"#444","strokeWidth":1.2},"encoding":{"x":{"datum":0,"type":"quantitative","title":"Favours [experimental] \u00a0 Favours [control]"},"y":{"field":"row","type":"nominal","axis":null,"bandPosition":1,"scale":{"type":"band","domain":["G","H","Duif 2015","kiminski 2018","kiminski 2019","gap","Total"],"paddingOuter":0.21,"align":0}},"y2":{"value":"height"}}},
  {"data":{"name":"c"},"transform":[{"filter":"datum.kind=='study'"}],"mark":{"type":"rule","color":"#333","strokeWidth":1.3},"encoding":{"x":{"field":"lo","type":"quantitative","title":"Favours [experimental] \u00a0 Favours [control]","scale":{"domain":[-4.6,4.6],"nice":false,"zero":false,"clamp":true},"axis":{"values":[-4,-2,0,2,4],"labelExpr":"datum.value < 0 ? '-' + format(-datum.value, '~g') : format(datum.value, '~g')","titleX":185}},"x2":{"field":"hi"}}},
  {"data":{"name":"c"},"transform":[{"filter":"datum.kind=='study'"}],"mark":{"type":"point","shape":"square","filled":true,"color":"#00b400","opacity":1},"encoding":{"x":{"field":"smd","type":"quantitative","title":"Favours [experimental] \u00a0 Favours [control]"},"size":{"field":"w","type":"quantitative","scale":{"domain":[0,0.35],"range":[0,100]},"legend":null}}},
  {"data":{"name":"c"},"transform":[{"filter":"datum.kind=='study' && datum.hi > 4.6"}],"mark":{"type":"point","shape":"triangle-right","filled":true,"color":"#000","opacity":1,"size":45},"encoding":{"x":{"field":"hi","type":"quantitative","title":"Favours [experimental] \u00a0 Favours [control]"}}},
  {"data":{"name":"c"},"transform":[{"filter":"datum.kind=='total'"},{"fold":["lo","smd","hi"],"as":["k","v"]}],"mark":{"type":"trail","color":"#000"},"encoding":{"x":{"field":"v","type":"quantitative","title":"Favours [experimental] \u00a0 Favours [control]"},"size":{"field":"k","type":"nominal","scale":{"type":"ordinal","domain":["lo","smd","hi"],"range":[0,17,0]},"legend":null}}}
 ]},
 {"width":17,"height":{"step":20.7},"data":{"name":"hdr"},"transform":[{"filter":"datum.label=='Study or Subgroup'"}],"mark":"rule","encoding":{"y":{"field":"row","type":"nominal","axis":null,"bandPosition":1,"scale":{"type":"band","domain":["G","H","Duif 2015","kiminski 2018","kiminski 2019","gap","Total","Het","Test"]}}}}
]}
]
}
